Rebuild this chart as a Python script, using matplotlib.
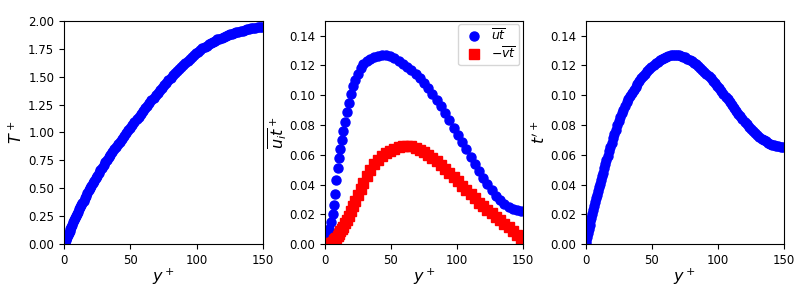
import matplotlib
matplotlib.use("Agg")
import matplotlib.pyplot as plt

# y+ grid used for the mean temperature and the rms profile
yp = [0.0, 0.6, 1.2, 1.8, 2.4, 3.0, 3.6, 4.2, 4.8, 5.5, 6.2, 6.9, 7.6, 8.3, 9.0,
      9.8, 10.6, 11.4, 12.2, 13.0, 13.9, 14.8, 15.7, 16.6, 17.6, 18.6, 19.6, 20.6,
      21.7, 22.8, 23.9, 25.0, 26.2, 27.4, 28.6, 29.8, 31.1, 32.4, 33.7, 35.0,
      36.4, 37.8, 39.2, 40.6, 42.1, 43.6, 45.1, 46.6,
      48.2, 49.8, 51.4, 53.0, 54.6, 56.2, 57.8, 59.4, 61.0, 62.6, 64.2, 65.8,
      67.4, 69.0, 70.6, 72.2, 73.8, 75.4, 77.0, 78.6, 80.2, 81.8, 83.4, 85.0,
      86.6, 88.2, 89.8, 91.4, 93.0, 94.6, 96.2, 97.8, 99.4, 101.0, 102.6, 104.2,
      105.8, 107.4, 109.0, 110.6, 112.2, 113.8, 115.4, 117.0, 118.6, 120.2, 121.8,
      123.4, 125.0, 126.6, 128.2, 129.8, 131.4, 133.0, 134.6, 136.2, 137.8, 139.4,
      141.0, 142.6, 144.2, 145.8, 147.4, 149.0]

T_plus = [0.000, 0.017, 0.034, 0.051, 0.068, 0.085, 0.102, 0.119, 0.136, 0.156,
          0.176, 0.196, 0.216, 0.236, 0.255,
          0.274, 0.292, 0.311, 0.330, 0.349, 0.370, 0.391, 0.413, 0.434, 0.458,
          0.481, 0.504, 0.524,
          0.546, 0.568, 0.590, 0.612, 0.636, 0.660, 0.684, 0.708, 0.734, 0.758,
          0.780, 0.801,
          0.825, 0.848, 0.871, 0.894, 0.919, 0.944, 0.969, 0.993,
          1.018, 1.043, 1.067, 1.092, 1.117, 1.141, 1.166, 1.190, 1.215, 1.239,
          1.263, 1.286,
          1.308, 1.331, 1.354, 1.376, 1.399, 1.422, 1.445, 1.467, 1.490, 1.511,
          1.529, 1.548,
          1.567, 1.585, 1.604, 1.623, 1.640, 1.657, 1.674, 1.690, 1.707, 1.724,
          1.741, 1.755,
          1.766, 1.777, 1.788, 1.799, 1.811, 1.822, 1.832, 1.840, 1.848, 1.856,
          1.864,
          1.872, 1.880, 1.885, 1.891, 1.896, 1.901, 1.907, 1.912, 1.917, 1.923,
          1.928,
          1.931, 1.934, 1.936, 1.939, 1.941, 1.944]

t_rms = [0.0000, 0.0025, 0.0050, 0.0075, 0.0100, 0.0128, 0.0153, 0.0178, 0.0203,
         0.0232, 0.0258, 0.0284, 0.0309, 0.0333, 0.0356,
         0.0382, 0.0407, 0.0432, 0.0457, 0.0481, 0.0509, 0.0537, 0.0565, 0.0593,
         0.0623, 0.0653, 0.0682, 0.0710,
         0.0740, 0.0769, 0.0797, 0.0824, 0.0852, 0.0878, 0.0903, 0.0927, 0.0951,
         0.0974, 0.0996, 0.1016,
         0.1037, 0.1057, 0.1076, 0.1094, 0.1112, 0.1129, 0.1145, 0.1160,
         0.1175, 0.1189, 0.1202, 0.1214, 0.1225, 0.1235, 0.1244, 0.1252, 0.1258,
         0.1263, 0.1267, 0.1269,
         0.1270, 0.1269, 0.1267, 0.1264, 0.1259, 0.1253, 0.1246, 0.1238, 0.1229,
         0.1219, 0.1208, 0.1196,
         0.1184, 0.1171, 0.1158, 0.1144, 0.1129, 0.1114, 0.1098, 0.1081, 0.1064,
         0.1046, 0.1028, 0.1010,
         0.0991, 0.0972, 0.0953, 0.0934, 0.0915, 0.0896, 0.0877, 0.0858, 0.0840,
         0.0822, 0.0805,
         0.0789, 0.0774, 0.0759, 0.0745, 0.0732, 0.0720, 0.0709, 0.0699, 0.0690,
         0.0682, 0.0675,
         0.0669, 0.0664, 0.0660, 0.0657, 0.0655, 0.0654]

# coarser grid for the heat flux panel
yp_mid = [0.0, 1.2, 2.3, 3.3, 4.6, 5.9, 6.9, 7.8, 8.7, 9.7, 10.7, 11.7, 12.7,
          13.9, 15.2, 16.6, 18.1, 19.7, 21.4, 23.2, 25.1, 27.1, 29.2,
          31.6, 34.2, 37.0, 40.0, 43.0,
          46.2, 49.4, 52.6, 55.8, 59.0, 62.2, 65.4, 68.6, 71.8, 75.0, 78.2, 81.4,
          84.6, 87.8, 91.0, 94.2, 97.4, 100.6, 103.8, 107.0, 110.2, 113.4, 116.6,
          119.8, 123.0, 126.2, 129.4, 132.6, 135.8, 139.0, 142.2, 145.4, 148.6]

ut = [0.000, 0.003, 0.006, 0.010, 0.015, 0.020, 0.026, 0.034, 0.043, 0.051,
      0.058, 0.064, 0.070,
      0.076, 0.082, 0.089, 0.095, 0.101, 0.106, 0.110, 0.1145, 0.118, 0.1206,
      0.1228, 0.1244, 0.1258, 0.1266, 0.1269,
      0.1268, 0.1262, 0.1250, 0.1232, 0.1212, 0.1192, 0.1168, 0.1141, 0.1112,
      0.1079, 0.1046, 0.1007, 0.0969, 0.0927, 0.0882, 0.0834, 0.0783, 0.0732,
      0.0684, 0.0636, 0.0588, 0.0540, 0.0492, 0.0446, 0.0402, 0.0362, 0.0326,
      0.0295, 0.0271, 0.0252, 0.0238, 0.0228, 0.0222]

vt = [0.0000, 0.0001, 0.0003, 0.0006, 0.0011, 0.0018, 0.0026, 0.0035, 0.0045,
      0.0058, 0.0072, 0.0086, 0.0100,
      0.0118, 0.0140, 0.0165, 0.0192, 0.0222, 0.0255, 0.0290, 0.0328, 0.0370,
      0.0412,
      0.0455, 0.0497, 0.0535, 0.0566, 0.0590,
      0.0610, 0.0626, 0.0640, 0.0651, 0.0659, 0.0662, 0.0658, 0.0648, 0.0635,
      0.0618, 0.0600, 0.0578, 0.0557, 0.0533, 0.0505, 0.0478, 0.0450, 0.0421,
      0.0393, 0.0365, 0.0337, 0.0308, 0.0280, 0.0255, 0.0231, 0.0208, 0.0185,
      0.0162, 0.0138, 0.0114, 0.0090, 0.0063, 0.0035]

fig = plt.figure(figsize=(8, 2.87), dpi=100)

ax1 = fig.add_axes([0.080, 0.149, 0.249, 0.779])
ax2 = fig.add_axes([0.406, 0.149, 0.248, 0.779])
ax3 = fig.add_axes([0.732, 0.149, 0.248, 0.779])

# mean temperature
ax1.plot(yp, T_plus, "bo", ms=6.5)
ax1.set_xlim(0, 150)
ax1.set_ylim(0, 2.0)
ax1.set_yticks([0, 0.25, 0.5, 0.75, 1.0, 1.25, 1.5, 1.75, 2.0])
ax1.set_ylabel(r"$T^+$", fontsize=11.5, labelpad=2)

# turbulent heat fluxes
ax2.plot(yp_mid, ut, "bo", ms=6.5, label=r"$\overline{ut}$")
ax2.plot(yp_mid, vt, "rs", ms=6.5, label=r"$-\overline{vt}$")
ax2.set_xlim(0, 150)
ax2.set_ylim(0, 0.15)
ax2.set_ylabel(r"$\overline{u_i t}^+$", fontsize=11.5, labelpad=0)
ax2.legend(loc="upper right", fontsize=9, handletextpad=0.3,
           borderpad=0.3, labelspacing=0.2, borderaxespad=0.3)

# temperature rms
ax3.plot(yp, t_rms, "bo", ms=6.5)
ax3.set_xlim(0, 150)
ax3.set_ylim(0, 0.15)
ax3.set_ylabel(r"$t'^+$", fontsize=11.5, labelpad=1)

for ax in (ax1, ax2, ax3):
    ax.set_xticks([0, 50, 100, 150])
    ax.set_xlabel(r"$y^+$", fontsize=11.5, labelpad=0)
    ax.tick_params(labelsize=8.5)
for ax in (ax2, ax3):
    ax.set_yticks([0, 0.02, 0.04, 0.06, 0.08, 0.10, 0.12, 0.14])

fig.savefig("out.png", dpi=100)
